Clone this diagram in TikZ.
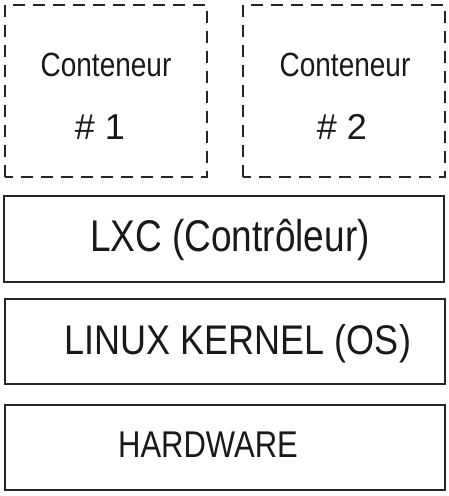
\documentclass[tikz,border=0pt]{standalone}
\usepackage{fontspec}
\setmainfont{Liberation Sans}
\begin{document}
\begin{tikzpicture}[x=1pt,y=1pt,
  contbox/.style={draw=black!85, line width=2.6pt, dash pattern=on 12pt off 8pt},
  layerbox/.style={draw=black!85, line width=2.6pt},
  lbl/.style={inner sep=0pt, text=black!90},
]
\useasboundingbox (0,0) rectangle (448,496);
% containers
\draw[contbox] (5,319) rectangle (207,491);
\draw[contbox] (243,319) rectangle (445,491);
\node[lbl, font=\fontsize{28}{32}\selectfont] (c1) at (106,431) {\scalebox{1}[1.2]{Conteneur}};
\node[lbl, font=\fontsize{36}{40}\selectfont] (n1) at (100,369) {\# 1};
\node[lbl, font=\fontsize{28}{32}\selectfont] (c2) at (345,431) {\scalebox{1}[1.2]{Conteneur}};
\node[lbl, font=\fontsize{36}{40}\selectfont] (n2) at (342,369) {\# 2};
% layers
\draw[layerbox] (4,214) rectangle (444,300);
\node[lbl, font=\fontsize{37}{42}\selectfont] (lxc) at (230,256) {\scalebox{1}[1.2]{LXC (Contrôleur)}};
\draw[layerbox] (5,112) rectangle (445,197);
\node[lbl, font=\fontsize{36}{42}\selectfont] (kern) at (238,152) {\scalebox{1}[1.15]{LINUX KERNEL (OS)}};
\draw[layerbox] (5,6) rectangle (445,91);
\node[lbl, font=\fontsize{31}{36}\selectfont] (hw) at (208,51) {\scalebox{1}[1.2]{HARDWARE}};
\end{tikzpicture}
\end{document}
